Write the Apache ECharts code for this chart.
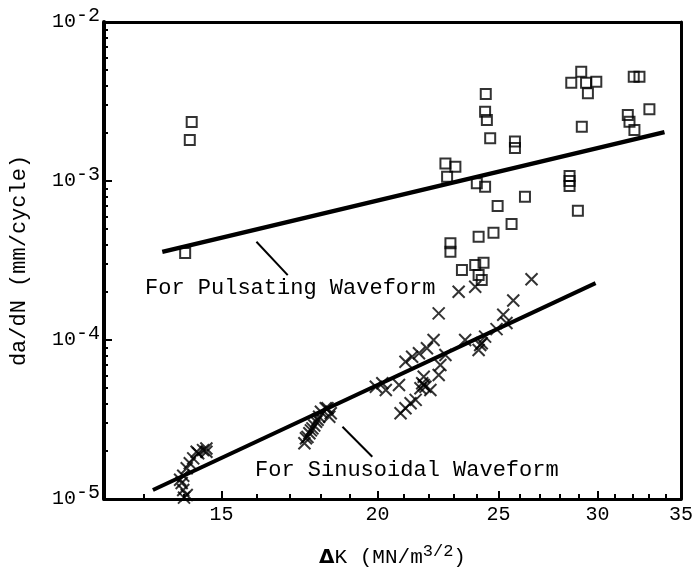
<!DOCTYPE html>
<html>
<head>
<meta charset="utf-8">
<script src="https://cdn.jsdelivr.net/npm/echarts/dist/echarts.min.js"></script>
<style>
  html, body { margin: 0; padding: 0; background: #fff; }
  #chart { width: 696px; height: 578px; }
</style>
</head>
<body>
<div id="chart"></div>
<script>
// ---- Data ----
// Pulsating waveform (squares): ΔK (MN/m^3/2), da/dN (mm/cycle)
const squaresX = [14.2, 14.15, 14.03,
  24.42, 24.39, 24.47, 24.62, 25.77, 25.77,
  22.67, 23.09, 22.74, 24.02, 24.39, 26.25, 24.96, 25.61,
  24.77, 24.10, 22.88, 22.88, 23.37, 23.95, 24.32, 24.10, 24.24,
  29.15, 28.50, 28.50, 28.50, 28.94,
  29.12, 28.59, 29.38, 29.94, 29.48,
  32.08, 32.42, 33.02, 31.73, 31.83, 32.12];
const squaresY = [2.35e-3, 1.81e-3, 3.53e-4,
  3.52e-3, 2.73e-3, 2.42e-3, 1.86e-3, 1.77e-3, 1.61e-3,
  1.29e-3, 1.23e-3, 1.064e-3, 9.67e-4, 9.21e-4, 7.96e-4, 6.96e-4, 5.36e-4,
  4.73e-4, 4.46e-4, 4.06e-4, 3.59e-4, 2.76e-4, 2.96e-4, 3.06e-4, 2.56e-4, 2.38e-4,
  2.19e-3, 1.075e-3, 1.0e-3, 9.3e-4, 6.5e-4,
  4.87e-3, 4.15e-3, 4.15e-3, 4.21e-3, 3.56e-3,
  4.53e-3, 4.53e-3, 2.83e-3, 2.60e-3, 2.36e-3, 2.09e-3];

// Sinusoidal waveform (crosses)
const crossesX = [14.59, 14.50, 14.37, 14.33, 14.24, 14.15, 14.07, 13.98, 13.90, 13.94, 13.98, 14.07, 14.59, 14.0,
  18.24, 18.18, 18.02, 18.35, 18.30, 17.96, 17.91, 17.86, 17.80, 17.74, 17.69, 17.64, 17.58, 17.53, 17.48,
  26.57, 25.69, 23.23, 23.95, 22.39, 25.22, 25.37, 24.91, 24.39, 24.24, 24.10, 23.51, 24.17,
  22.18, 21.91, 21.59, 21.32, 21.06, 22.67, 22.46, 22.39,
  21.78, 21.72, 21.85, 21.65, 22.05, 21.78,
  20.18, 19.94, 20.31, 20.81, 21.46, 21.26, 21.06, 20.87];
const crossesY = [2.08e-5, 2.03e-5, 1.94e-5, 1.98e-5, 1.80e-5, 1.68e-5, 1.56e-5, 1.40e-5, 1.32e-5, 1.26e-5, 1.14e-5, 1.06e-5, 1.98e-5, 1.02e-5,
  3.72e-5, 3.72e-5, 3.54e-5, 3.46e-5, 3.29e-5, 3.29e-5, 3.15e-5, 3.06e-5, 2.90e-5, 2.78e-5, 2.70e-5, 2.59e-5, 2.46e-5, 2.41e-5, 2.24e-5,
  2.41e-4, 1.77e-4, 2.01e-4, 2.16e-4, 1.47e-4, 1.44e-4, 1.28e-4, 1.17e-4, 1.05e-4, 9.53e-5, 8.65e-5, 1.00e-4, 9.30e-5,
  1.00e-4, 8.87e-5, 8.25e-5, 7.85e-5, 7.30e-5, 8.05e-5, 6.96e-5, 6.03e-5,
  5.87e-5, 5.34e-5, 5.08e-5, 4.97e-5, 4.85e-5, 5.21e-5,
  5.34e-5, 5.08e-5, 4.85e-5, 5.21e-5, 4.20e-5, 4.00e-5, 3.72e-5, 3.46e-5];

// Fitted lines
const pulseLineX = [13.45, 33.95];
const pulseLineY = [3.58e-4, 2.03e-3];
const sineLineX = [13.22, 29.9];
const sineLineY = [1.14e-5, 2.28e-4];

// Annotation leader lines
const pulseLeaderX = [16.0, 16.95];
const pulseLeaderY = [4.15e-4, 2.56e-4];
const sineLeaderX = [18.75, 19.81];
const sineLeaderY = [2.85e-5, 1.845e-5];

// Axes / ticks
const xRange = [12.08, 35];
const yRange = [1e-5, 1e-2];
const xMajorTicks = [15, 20, 25, 30, 35];
const xMinorTicks = [13, 14, 16, 17, 18, 19, 21, 22, 23, 24, 26, 27, 28, 29, 31, 32, 33, 34];
const yExponents = [-5, -4, -3, -2];
const yMinorMantissas = [2, 3, 4, 5, 6, 7, 8, 9];

const L = Math.log10;
const pts = (xs, ys) => xs.map((x, i) => [L(x), L(ys[i])]);

const yMinorTicks = [];
yExponents.slice(0, -1).forEach(e => yMinorMantissas.forEach(m => yMinorTicks.push(e + L(m))));

const mono = '"Liberation Mono", "DejaVu Sans Mono", monospace';

const chart = echarts.init(document.getElementById('chart'), null, { renderer: 'canvas' });

const commonX = { type: 'value', min: L(xRange[0]), max: L(xRange[1]), splitLine: { show: false } };
const commonY = { type: 'value', min: L(yRange[0]), max: L(yRange[1]), splitLine: { show: false } };

chart.setOption({
  animation: false,
  backgroundColor: '#fff',
  grid: { left: 102, right: 14, top: 22, bottom: 79 },
  xAxis: [
    Object.assign({}, commonX, {
      position: 'bottom',
      name: '{d|Δ}{t|K (MN/m}{s|3/2}{t|)}',
      nameLocation: 'middle',
      nameGap: 44,
      nameTextStyle: {
        rich: {
          d: { fontFamily: '"DejaVu Sans"', fontWeight: 'bold', fontSize: 20, color: '#000' },
          t: { fontFamily: mono, fontSize: 21, color: '#000' },
          s: { fontFamily: mono, fontSize: 17, color: '#000', padding: [0, 0, 12, 0] }
        }
      },
      axisLine: { show: true, lineStyle: { color: '#000', width: 3 } },
      axisTick: { show: true, inside: true, length: 8, lineStyle: { color: '#000', width: 2 }, customValues: xMajorTicks.map(L) },
      axisLabel: { show: true, margin: 6, customValues: xMajorTicks.map(L), formatter: v => String(Math.round(Math.pow(10, v))), fontFamily: mono, fontSize: 20, color: '#000' }
    }),
    Object.assign({}, commonX, {
      position: 'bottom',
      axisLine: { show: false },
      axisTick: { show: true, inside: true, length: 5, lineStyle: { color: '#000', width: 2 }, customValues: xMinorTicks.map(L) },
      axisLabel: { show: false }
    }),
    Object.assign({}, commonX, {
      position: 'top',
      axisLine: { show: true, lineStyle: { color: '#000', width: 3 } },
      axisTick: { show: false },
      axisLabel: { show: false }
    })
  ],
  yAxis: [
    Object.assign({}, commonY, {
      position: 'left',
      interval: 1,
      name: 'da/dN (mm/cycle)',
      nameLocation: 'middle',
      nameGap: 74,
      nameRotate: 90,
      nameTextStyle: { fontFamily: mono, fontSize: 22, color: '#000' },
      axisLine: { show: true, lineStyle: { color: '#000', width: 4 } },
      axisTick: { show: true, inside: true, length: 8, lineStyle: { color: '#000', width: 2 } },
      axisLabel: {
        margin: 4,
        formatter: v => '{b|10}{s|' + (v < 0 ? '-' : '') + Math.abs(Math.round(v)) + '}',
        rich: {
          b: { fontFamily: mono, fontSize: 20, color: '#000' },
          s: { fontFamily: mono, fontSize: 20, color: '#000', padding: [0, 0, 12, 0] }
        }
      }
    }),
    Object.assign({}, commonY, {
      position: 'left',
      axisLine: { show: false },
      axisTick: { show: true, inside: true, length: 4, lineStyle: { color: '#000', width: 2 }, customValues: yMinorTicks },
      axisLabel: { show: false }
    }),
    Object.assign({}, commonY, {
      position: 'right',
      axisLine: { show: true, lineStyle: { color: '#000', width: 3 } },
      axisTick: { show: false },
      axisLabel: { show: false }
    })
  ],
  series: [
    {
      name: 'Pulsating', type: 'scatter', data: pts(squaresX, squaresY),
      symbol: 'rect', symbolSize: 10,
      itemStyle: { color: 'rgba(0,0,0,0)', borderColor: '#000', borderWidth: 2 },
      emphasis: { disabled: true }, z: 3
    },
    {
      name: 'Sinusoidal', type: 'scatter', data: pts(crossesX, crossesY),
      symbol: 'path://M0,0L10,10M10,0L0,10', symbolSize: 12,
      itemStyle: { color: 'rgba(0,0,0,0)', borderColor: '#000', borderWidth: 2 },
      emphasis: { disabled: true }, z: 3
    },
    { type: 'line', data: pts(pulseLineX, pulseLineY), symbol: 'none', lineStyle: { color: '#000', width: 4.5 }, z: 2 },
    { type: 'line', data: pts(sineLineX, sineLineY), symbol: 'none', lineStyle: { color: '#000', width: 4 }, z: 2 },
    { type: 'line', data: pts(pulseLeaderX, pulseLeaderY), symbol: 'none', lineStyle: { color: '#000', width: 2 }, z: 2 },
    { type: 'line', data: pts(sineLeaderX, sineLeaderY), symbol: 'none', lineStyle: { color: '#000', width: 2 }, z: 2 }
  ],
  graphic: [
    { type: 'text', left: 145, top: 277, style: { text: 'For Pulsating Waveform', font: '22px ' + mono, fill: '#000' } },
    { type: 'text', left: 255, top: 459, style: { text: 'For Sinusoidal Waveform', font: '22px ' + mono, fill: '#000' } }
  ]
});
</script>
</body>
</html>
